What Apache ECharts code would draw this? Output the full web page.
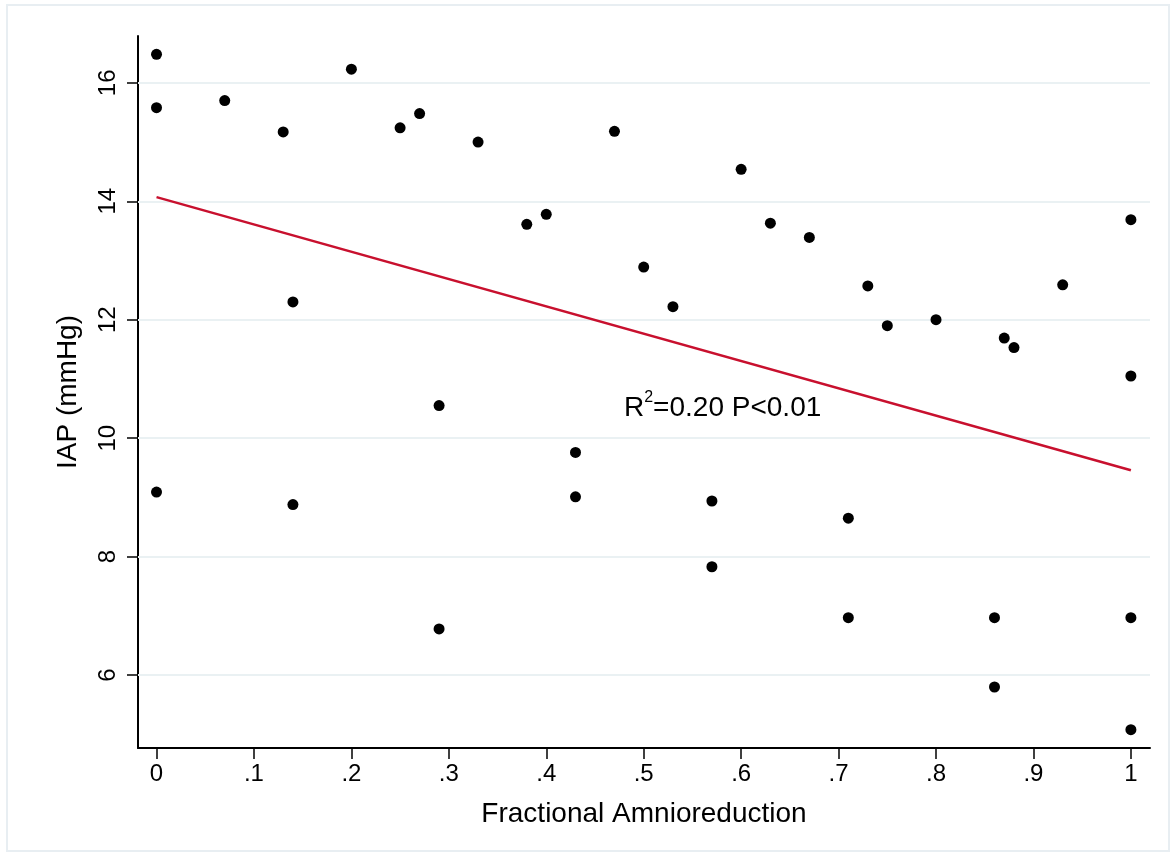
<!DOCTYPE html>
<html>
<head>
<meta charset="utf-8">
<script src="https://cdn.jsdelivr.net/npm/echarts@6/dist/echarts.min.js"></script>
<style>
  html, body { margin: 0; padding: 0; background: #fff; }
  #chart { width: 1176px; height: 857px; }
</style>
</head>
<body>
<div id="chart"></div>
<script>
// Fractional amnioreduction vs intra-amniotic pressure
const fracX = [0, 0, 0, 0.07, 0.13, 0.14, 0.14, 0.2, 0.25, 0.27, 0.29, 0.29, 0.33, 0.38, 0.40,
  0.43, 0.43, 0.47, 0.50, 0.53, 0.57, 0.57, 0.60, 0.63, 0.67, 0.71, 0.71, 0.73, 0.75, 0.80,
  0.86, 0.86, 0.87, 0.88, 0.93, 1, 1, 1, 1];
const iap = [16.48, 15.58, 9.09, 15.70, 15.17, 12.30, 8.88, 16.23, 15.24, 15.48, 10.55, 6.78, 15.00, 13.61, 13.78,
  9.76, 9.01, 15.18, 12.89, 12.22, 8.94, 7.83, 14.54, 13.63, 13.39, 8.65, 6.97, 12.57, 11.90, 12.00,
  6.97, 5.80, 11.69, 11.53, 12.59, 13.69, 11.05, 6.97, 5.08];

// fitted regression line end points
const fitX = [0, 1];
const fitY = [14.07, 9.46];

const xTicks = [0, 0.1, 0.2, 0.3, 0.4, 0.5, 0.6, 0.7, 0.8, 0.9, 1];
const yTicks = [6, 8, 10, 12, 14, 16];

const chart = echarts.init(document.getElementById('chart'));
const font = '"Liberation Sans", Arial, Helvetica, sans-serif';

const option = {
  backgroundColor: '#fff',
  animation: false,
  textStyle: { fontFamily: font },
  graphic: [
    {
      type: 'rect',
      shape: { x: 7, y: 5, width: 1162, height: 846 },
      style: { fill: 'none', stroke: '#e8eef2', lineWidth: 2 },
      silent: true
    },
    {
      // R^2 annotation with a raised small "2"
      type: 'text',
      left: 624,
      top: 390,
      style: {
        text: '{n|R}{s|2}{n|=0.20 P<0.01}',
        rich: {
          n: { fontSize: 28, fontFamily: font, color: '#000', lineHeight: 32, verticalAlign: 'bottom' },
          s: { fontSize: 16, fontFamily: font, color: '#000', lineHeight: 16, verticalAlign: 'top' }
        }
      },
      silent: true
    }
  ],
  grid: { left: 138, right: 26, top: 36, bottom: 109 },
  xAxis: {
    type: 'value',
    min: -0.019,
    max: 1.0196,
    name: 'Fractional Amnioreduction',
    nameLocation: 'middle',
    nameGap: 52,
    nameTextStyle: { fontSize: 28, color: '#000', fontFamily: font },
    axisLine: { show: true, onZero: false, lineStyle: { color: '#000', width: 2 } },
    axisTick: { show: true, length: 11, lineStyle: { color: '#000', width: 1.5 }, customValues: xTicks },
    axisLabel: {
      fontSize: 24, color: '#000', margin: 14, customValues: xTicks,
      formatter: v => (v === 0 ? '0' : v === 1 ? '1' : String(v).replace(/^0/, ''))
    },
    splitLine: { show: false }
  },
  yAxis: {
    type: 'value',
    min: 4.77,
    max: 16.79,
    name: 'IAP (mmHg)',
    nameLocation: 'middle',
    nameGap: 56,
    nameRotate: 90,
    nameTextStyle: { fontSize: 28, color: '#000', fontFamily: font },
    axisLine: { show: true, onZero: false, lineStyle: { color: '#000', width: 2 } },
    axisTick: { show: true, length: 11, lineStyle: { color: '#000', width: 1.5 }, customValues: yTicks },
    axisLabel: { fontSize: 24, color: '#000', margin: 18, rotate: 90, customValues: yTicks },
    splitLine: { show: false }
  },
  series: [
    {
      type: 'scatter',
      name: 'IAP',
      data: fracX.map((x, i) => [x, iap[i]]),
      symbol: 'circle',
      symbolSize: 11,
      itemStyle: { color: '#000', opacity: 1 },
      z: 3,
      markLine: {
        silent: true,
        symbol: 'none',
        label: { show: false },
        lineStyle: { color: '#eaf1f3', width: 2, type: 'solid' },
        data: yTicks.map(v => ({ yAxis: v })),
        z: 1
      }
    },
    {
      type: 'line',
      name: 'Fit',
      data: fitX.map((x, i) => [x, fitY[i]]),
      symbol: 'none',
      lineStyle: { color: '#c8102e', width: 2.5 },
      z: 2
    }
  ]
};

chart.setOption(option);
</script>
</body>
</html>
